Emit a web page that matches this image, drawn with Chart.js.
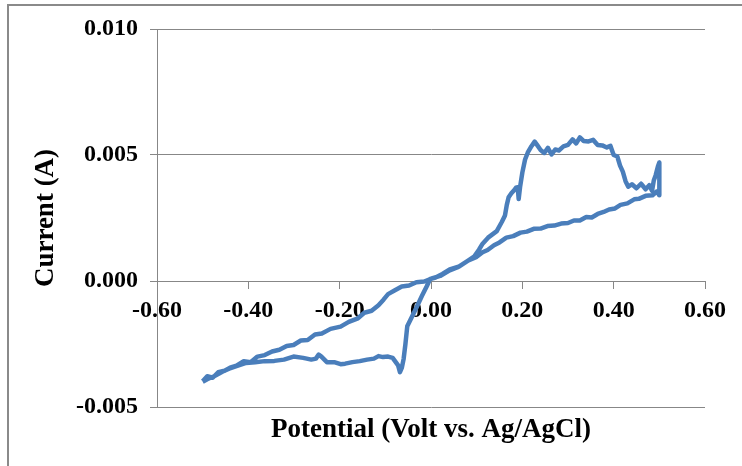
<!DOCTYPE html>
<html>
<head>
<meta charset="utf-8">
<script src="https://cdn.jsdelivr.net/npm/chart.js@4.4.1/dist/chart.umd.min.js"></script>
<style>
  html, body { margin: 0; padding: 0; background: #fff; }
  #wrap { position: relative; width: 742px; height: 466px; }
  #frame { position: absolute; left: 7px; top: 4px; right: 0; bottom: 0; border-left: 2px solid #8a8a8a; border-top: 2px solid #8a8a8a; pointer-events: none; }
</style>
</head>
<body>
<div id="wrap">
  <canvas id="cv" width="742" height="466"></canvas>
  <div id="frame"></div>
</div>
<script>
// forward scan (towards +0.5 V)
const fwdPotential = [
  -0.500, -0.490, -0.478, -0.466, -0.452, -0.440, -0.426, -0.410, -0.395, -0.380,
  -0.364, -0.348, -0.332, -0.316, -0.301, -0.285, -0.270, -0.254, -0.239, -0.220,
  -0.198, -0.180, -0.160, -0.146, -0.130, -0.115, -0.104, -0.094, -0.080, -0.064,
  -0.048, -0.032, -0.015, 0.000, 0.020, 0.041, 0.060, 0.082, 0.095, 0.105,
  0.113, 0.125, 0.144, 0.155, 0.162, 0.166, 0.170, 0.176, 0.181, 0.186,
  0.190, 0.192, 0.195, 0.200, 0.206, 0.212, 0.220, 0.227, 0.233, 0.240,
  0.248, 0.256, 0.264, 0.272, 0.280, 0.290, 0.300, 0.310, 0.318, 0.326,
  0.334, 0.345, 0.355, 0.365, 0.375, 0.385, 0.393, 0.400, 0.408, 0.414,
  0.420, 0.426, 0.432, 0.440, 0.450, 0.460, 0.470, 0.478, 0.484, 0.488,
  0.492, 0.497, 0.500, 0.500
];
const fwdCurrent = [
  -0.00398, -0.00378, -0.00384, -0.00362, -0.00356, -0.00344, -0.00336, -0.00318, -0.00322, -0.00300,
  -0.00294, -0.00280, -0.00273, -0.00258, -0.00254, -0.00236, -0.00234, -0.00212, -0.00208, -0.00190,
  -0.00181, -0.00162, -0.00148, -0.00126, -0.00118, -0.00096, -0.00074, -0.00052, -0.00038, -0.00022,
  -0.00018, -0.00005, -0.00002, 0.00009, 0.00020, 0.00042, 0.00056, 0.00082, 0.00098, 0.00124,
  0.00148, 0.00172, 0.00198, 0.00234, 0.00260, 0.00302, 0.00332, 0.00348, 0.00358, 0.00370,
  0.00372, 0.00325, 0.00372, 0.00430, 0.00482, 0.00510, 0.00535, 0.00553, 0.00538, 0.00520,
  0.00508, 0.00528, 0.00502, 0.00522, 0.00518, 0.00534, 0.00540, 0.00562, 0.00546, 0.00570,
  0.00556, 0.00554, 0.00560, 0.00540, 0.00538, 0.00530, 0.00536, 0.00500, 0.00494, 0.00458,
  0.00434, 0.00396, 0.00374, 0.00384, 0.00368, 0.00386, 0.00364, 0.00380, 0.00358, 0.00400,
  0.00420, 0.00455, 0.00470, 0.00340
];

// reverse scan (back to -0.5 V)
const revPotential = [
  0.495, 0.485, 0.470, 0.455, 0.445, 0.430, 0.415, 0.403, 0.390, 0.378,
  0.365, 0.352, 0.340, 0.326, 0.313, 0.300, 0.285, 0.270, 0.255, 0.240,
  0.225, 0.210, 0.196, 0.180, 0.165, 0.150, 0.138, 0.124, 0.113, 0.100,
  0.082, 0.062, 0.041, 0.025, 0.010, -0.002, -0.009, -0.020, -0.032, -0.042,
  -0.052, -0.056, -0.060, -0.064, -0.068, -0.072, -0.084, -0.094, -0.105, -0.115,
  -0.125, -0.140, -0.156, -0.172, -0.188, -0.198, -0.212, -0.228, -0.240, -0.246,
  -0.252, -0.262, -0.280, -0.301, -0.322, -0.343, -0.364, -0.385, -0.405, -0.426,
  -0.442, -0.457, -0.475, -0.490, -0.500
];
const revCurrent = [
  0.00356, 0.00340, 0.00338, 0.00326, 0.00324, 0.00308, 0.00302, 0.00288, 0.00284, 0.00274,
  0.00266, 0.00252, 0.00254, 0.00240, 0.00240, 0.00230, 0.00228, 0.00220, 0.00218, 0.00208,
  0.00207, 0.00196, 0.00192, 0.00178, 0.00172, 0.00153, 0.00142, 0.00123, 0.00114, 0.00096,
  0.00082, 0.00058, 0.00046, 0.00028, 0.00014, 0.00008, -0.00020, -0.00060, -0.00106, -0.00143,
  -0.00180, -0.00250, -0.00310, -0.00345, -0.00362, -0.00335, -0.00305, -0.00300, -0.00302, -0.00298,
  -0.00308, -0.00312, -0.00318, -0.00322, -0.00328, -0.00330, -0.00322, -0.00322, -0.00300, -0.00292,
  -0.00308, -0.00312, -0.00305, -0.00300, -0.00312, -0.00317, -0.00318, -0.00322, -0.00325, -0.00338,
  -0.00348, -0.00360, -0.00378, -0.00390, -0.00400
];

const xTickStep = 0.2;
const yTickStep = 0.005;

const potential = fwdPotential.concat(revPotential);
const current = fwdCurrent.concat(revCurrent);
const points = potential.map((v, i) => ({ x: v, y: current[i] }));

const serif = '"Liberation Serif", "Times New Roman", serif';
const gridGray = '#878787';

new Chart(document.getElementById('cv'), {
  type: 'scatter',
  data: {
    datasets: [{
      data: points,
      showLine: true,
      borderColor: '#4a7ebb',
      borderWidth: 4.5,
      borderJoinStyle: 'round',
      pointRadius: 0,
      tension: 0,
      fill: false
    }]
  },
  options: {
    responsive: false,
    animation: false,
    layout: { padding: { top: 29, right: 37, left: 0, bottom: 0 } },
    plugins: { legend: { display: false }, tooltip: { enabled: false } },
    scales: {
      x: {
        type: 'linear',
        position: { y: 0 },
        min: -0.6, max: 0.6,
        ticks: {
          stepSize: xTickStep,
          color: '#000',
          font: { family: serif, size: 24, weight: 'bold' },
          padding: 8,
          callback: v => (Math.abs(v) < 1e-9 ? 0 : v).toFixed(2)
        },
        grid: { drawOnChartArea: false, drawTicks: true, tickLength: 7, color: gridGray },
        border: { display: true, color: gridGray, width: 1 }
      },
      x2: {
        type: 'linear',
        position: 'bottom',
        min: -0.6, max: 0.6,
        ticks: { display: false },
        grid: { display: false },
        border: { display: false },
        title: {
          display: true,
          text: 'Potential (Volt vs. Ag/AgCl)',
          color: '#000',
          font: { family: serif, size: 27, weight: 'bold' },
          padding: { top: 0, bottom: 20 }
        },
        afterFit: s => { s.height = 59; }
      },
      y: {
        min: -0.005, max: 0.010,
        ticks: {
          stepSize: yTickStep,
          color: '#000',
          font: { family: serif, size: 24, weight: 'bold' },
          padding: 12,
          callback: v => (Math.abs(v) < 1e-12 ? 0 : v).toFixed(3)
        },
        grid: { color: gridGray, tickLength: 7 },
        border: { display: true, color: gridGray },
        title: {
          display: true,
          text: 'Current (A)',
          color: '#000',
          font: { family: serif, size: 27, weight: 'bold' },
          padding: { top: 30, bottom: 0 }
        },
        afterFit: s => { s.width = 157; }
      }
    }
  }
});
</script>
</body>
</html>
